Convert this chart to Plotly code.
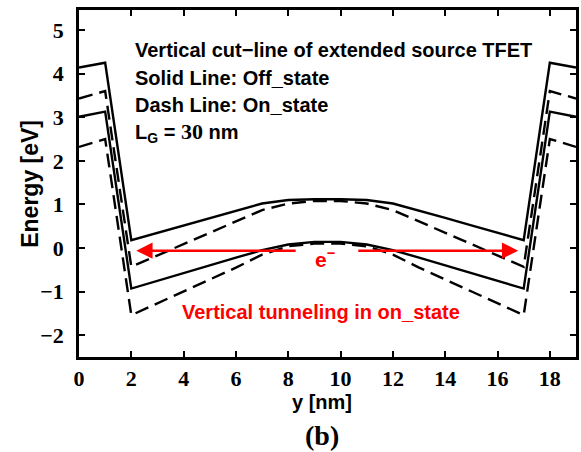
import plotly.graph_objects as go

# ---- data ----
y_pos = list(range(0, 20))  # y [nm]
ec_off = [4.14, 4.25, 0.18, 0.35, 0.52, 0.69, 0.86, 1.02, 1.10, 1.12,
          1.12, 1.10, 1.02, 0.86, 0.69, 0.52, 0.35, 0.18, 4.25, 4.14]
ev_off = [3.01, 3.13, -0.93, -0.75, -0.58, -0.40, -0.22, -0.05, 0.08, 0.14,
          0.14, 0.08, -0.05, -0.22, -0.40, -0.58, -0.75, -0.93, 3.13, 3.01]
ec_on = [3.43, 3.60, -0.43, -0.17, 0.09, 0.35, 0.61, 0.87, 1.02, 1.08,
         1.08, 1.02, 0.87, 0.61, 0.35, 0.09, -0.17, -0.43, 3.60, 3.43]
ev_on = [2.32, 2.50, -1.54, -1.27, -1.00, -0.72, -0.45, -0.15, 0.04, 0.10,
         0.10, 0.04, -0.15, -0.45, -0.72, -1.00, -1.27, -1.54, 2.50, 2.32]

x_ticks = list(range(0, 20, 2))
y_ticks = list(range(-2, 6))

arrow_y = -0.06
arrow_left = (8.34, 2.19)    # (tail, head)
arrow_right = (10.62, 16.79)  # (tail, head)

fig = go.Figure()
for vals, dash in [(ec_off, "solid"), (ev_off, "solid"),
                   (ec_on, "14px,7px"), (ev_on, "14px,7px")]:
    fig.add_trace(go.Scatter(x=y_pos, y=vals, mode="lines",
                             line=dict(color="black", width=2.4, dash=dash),
                             showlegend=False, hoverinfo="skip"))

red = "#ff0000"
for tail, head in [arrow_left, arrow_right]:
    fig.add_annotation(x=head, y=arrow_y, ax=tail, ay=arrow_y,
                       xref="x", yref="y", axref="x", ayref="y",
                       text="", showarrow=True, arrowhead=2, arrowsize=1.3,
                       arrowwidth=2.5, arrowcolor=red, standoff=0)

sans = "Liberation Sans"
serif = "Liberation Serif"

fig.add_annotation(x=9.42, y=-0.22, xref="x", yref="y", text="<b>e<sup>−</sup></b>",
                   showarrow=False, font=dict(family=sans, size=21, color=red))
fig.add_annotation(x=9.27, y=-1.47, xref="x", yref="y",
                   text="<b>Vertical tunneling in on_state</b>",
                   showarrow=False, font=dict(family=sans, size=20, color=red))

lines = [("<b>Vertical cut−line of extended source TFET</b>", 4.54),
         ("<b>Solid Line: Off_state</b>", 3.90),
         ("<b>Dash Line: On_state</b>", 3.28),
         ("<b>L<sub>G</sub> = <span style=\"font-family:'Liberation Serif';font-size:22px\">30</span> nm</b>", 2.66)]
for txt, yy in lines:
    fig.add_annotation(x=2.05, y=yy, xref="x", yref="y", text=txt, xanchor="left",
                       yanchor="middle", showarrow=False,
                       font=dict(family=sans, size=20, color="black"))

fig.add_annotation(x=0.488, y=-0.129, xref="paper", yref="paper", text="<b>y [nm]</b>",
                   yanchor="middle", showarrow=False,
                   font=dict(family=sans, size=20, color="black"))
fig.add_annotation(x=0.488, y=-0.225, xref="paper", yref="paper", text="<b>(b)</b>",
                   yanchor="middle", showarrow=False,
                   font=dict(family=serif, size=28, color="black"))
fig.add_annotation(x=-0.1, y=0.5, xref="paper", yref="paper", text="<b>Energy [eV]</b>",
                   textangle=-90, xanchor="center", yanchor="middle", showarrow=False,
                   font=dict(family=sans, size=23, color="black"))

axis_common = dict(showline=True, linecolor="black", linewidth=2.5, mirror="ticks",
                   ticks="inside", ticklen=6, tickwidth=1.5, tickcolor="black",
                   showgrid=False, zeroline=False,
                   tickfont=dict(family=serif, size=22, color="black", weight="bold"))

fig.update_layout(
    width=581, height=452,
    margin=dict(l=79, r=2, t=10, b=95),
    plot_bgcolor="white", paper_bgcolor="white",
    xaxis=dict(range=[0, 19], tickvals=x_ticks, ticklabelstandoff=0, **axis_common),
    yaxis=dict(range=[-2.5, 5.46], tickvals=y_ticks, ticklabelstandoff=8, **axis_common),
)

fig.write_html("out.html")
